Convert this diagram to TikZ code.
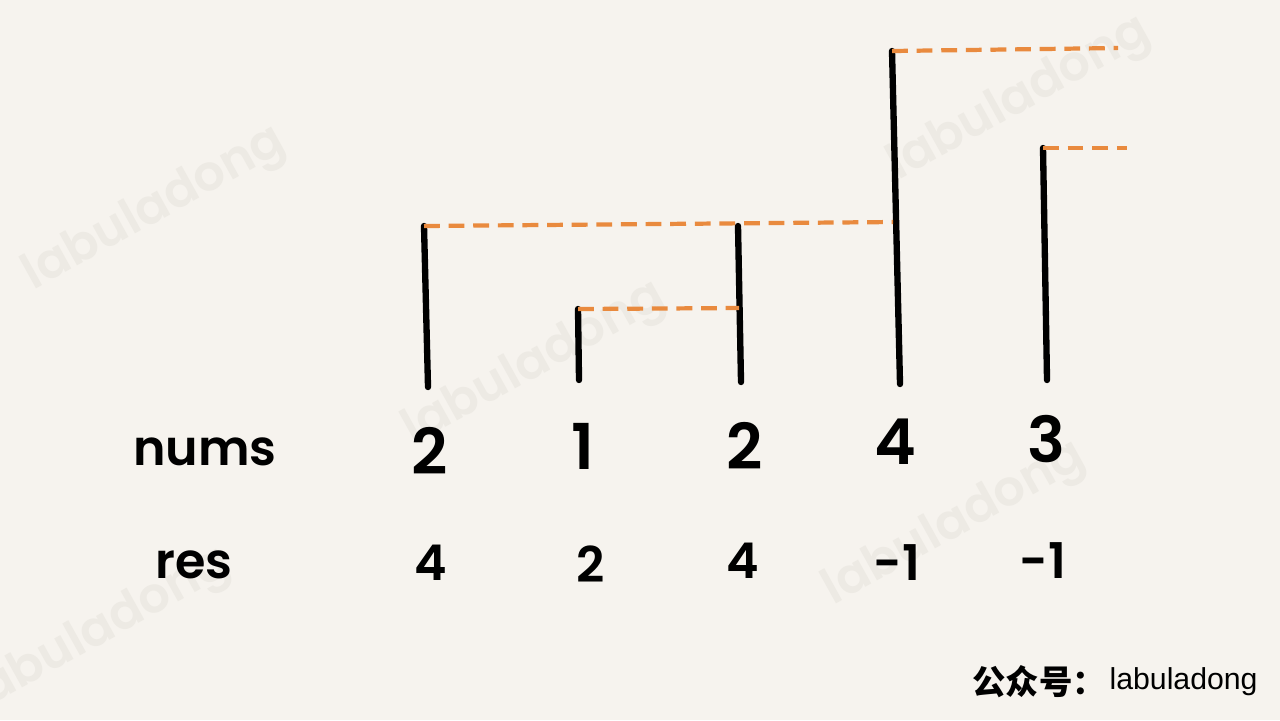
\documentclass[tikz,border=0pt]{standalone}
\usepackage{fontspec}
\setmainfont{Poppins}[UprightFont=* Medium, BoldFont=* SemiBold]
\newfontfamily\cjkfont{Noto Sans CJK SC}
\newfontfamily\arialfont{Liberation Sans}
\usetikzlibrary{positioning}
\definecolor{paper}{HTML}{F6F3EE}
\definecolor{dashorange}{HTML}{E98A3E}
\definecolor{wmark}{HTML}{EDEAE4}

\begin{document}
\begin{tikzpicture}[x=0.01cm, y=-0.01cm,
  bar/.style={line width=1.8pt, line cap=round},
  link/.style={dashorange, line width=1.2pt, dash pattern=on 4.5pt off 2.5pt},
  numlabel/.style={font=\fontsize{18}{18}\selectfont\bfseries},
  reslabel/.style={font=\fontsize{14}{14}\selectfont\bfseries},
  rowname/.style={font=\fontsize{14}{14}\selectfont\bfseries},
  wm/.style={wmark, rotate=29, font=\fontsize{14}{14}\selectfont\bfseries}]
\fill[paper] (0,0) rectangle (1280,720);
\useasboundingbox (0,0) rectangle (1280,720);
% watermarks
\node[wm] (wm1) at (155,210) {labuladong};
\node[wm] (wm2) at (1020,100) {labuladong};
\node[wm] (wm3) at (535,365) {labuladong};
\node[wm] (wm4) at (955,525) {labuladong};
\node[wm] (wm5) at (100,632) {labuladong};
% bars
\coordinate (t1) at (424,226); \coordinate (b1) at (428,387);
\coordinate (t2) at (578,309); \coordinate (b2) at (579,380);
\coordinate (t3) at (738,226); \coordinate (b3) at (741,382);
\coordinate (t4) at (892,51);  \coordinate (b4) at (900,384);
\coordinate (t5) at (1043,148); \coordinate (b5) at (1047,380);
\foreach \i in {1,...,5}
  \draw[bar] (t\i) -- (b\i);
% next greater element
\coordinate (h3) at (739,308);
\coordinate (h4) at (893,222);
\coordinate (e4) at (1118,48);
\coordinate (e5) at (1127,148);
\draw[link] (t1) -- (h4);
\draw[link] (t2) -- (h3);
\draw[link] (t4) -- (e4);
\draw[link] (t5) -- (e5);
% rows
\node[rowname] (nums) at (205,452) {nums};
\node[rowname] (res) at (194,565) {res};
\node[numlabel] (n1) at (430,451) {2};
\node[numlabel] (n2) at (583,446) {1};
\node[numlabel] (n3) at (745,446) {2};
\node[numlabel] (n4) at (895,442) {4};
\node[numlabel] (n5) at (1046,439) {3};
\node[reslabel] (r1) at (431,563) {4};
\node[reslabel] (r2) at (591,564) {2};
\node[reslabel] (r3) at (743,561) {4};
\node[reslabel] (r4) at (897,563) {-1};
\node[reslabel] (r5) at (1043,561) {-1};
% footer
\node[anchor=east, font=\arialfont\fontsize{8.6}{10}\selectfont] (brand) at (1270,682) {labuladong};
\node[left=-6pt of brand, font=\cjkfont\fontsize{9.5}{10}\selectfont\bfseries] (wechat) {公众号：};
\end{tikzpicture}
\end{document}
